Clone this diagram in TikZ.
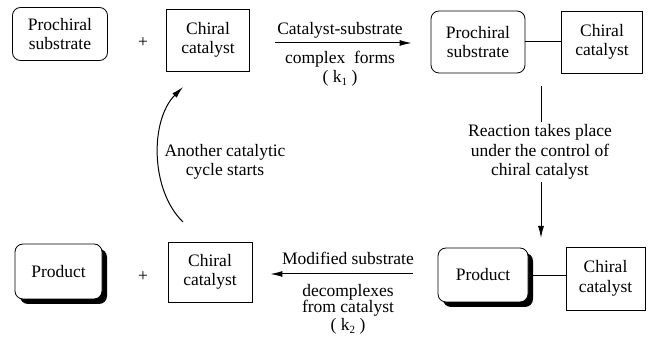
\documentclass[tikz,border=0pt]{standalone}
\usepackage{fontspec}
\setmainfont{Liberation Serif}
\newfontfamily\tnr{Liberation Serif}
\usetikzlibrary{arrows.meta}
\newcommand{\sbs}[1]{\raisebox{-3.5pt}{\fontsize{11}{11}\selectfont #1}}
\begin{document}
\begin{tikzpicture}[x=1pt,y=-1pt,
  every node/.style={font=\tnr\fontsize{17.5}{19.5}\selectfont, align=center, inner sep=0pt},
  sqbox/.style={draw, line width=0.8pt, minimum width=#1},
  rbox/.style={draw, line width=0.8pt, rounded corners=8pt, fill=white},
  conn/.style={line width=1pt},
  arr/.style={line width=1pt, -{Latex[length=12pt,width=6pt]}}]
\useasboundingbox (0,0) rectangle (654,347);
% top row
\node[rbox, minimum width=95pt, minimum height=53pt] (ps1) at (60,34) {Prochiral\\substrate};
\node (plus1) at (143,43) {+};
\node[sqbox=83pt, minimum height=62pt] (cc1) at (208,40) {Chiral\\catalyst};
\node[rbox, minimum width=94pt, minimum height=62pt] (ps2) at (478,42) {Prochiral\\substrate};
\node[sqbox=81pt, minimum height=62pt] (cc2) at (602,42) {Chiral\\catalyst};
\draw[conn] (ps2) -- (cc2);
% top arrow
\draw[arr, shorten <=25pt, shorten >=19pt] (cc1.east |- 0,43) -- (ps2.west |- 0,43);
\node (t1) at (340,30) {Catalyst-substrate};
\node (t2) at (340,59) {complex\ \ forms};
\node (t3) at (340,78) {( k\sbs{1} )};
% vertical
\coordinate (vtop) at (541,86);
\coordinate (vbot) at (541,238);
\draw[arr] (vtop) -- (vbot);
\node[fill=white, inner ysep=3pt] (rt) at (540,152) {Reaction takes place\\under the control of\\chiral catalyst};
% bottom right
\fill[rounded corners=8pt] (443,253) rectangle (533,307);
\node[rbox, minimum width=90pt, minimum height=54pt] (pr2) at (483,275) {Product};
\node[sqbox=79pt, minimum height=63pt] (cc4) at (605.5,278.5) {Chiral\\catalyst};
\draw[conn] (pr2.east |- 0,276) -- (cc4.west |- 0,276);
% bottom left
\fill[rounded corners=8pt] (20,249) rectangle (107,304);
\node[rbox, minimum width=87pt, minimum height=55pt] (pr1) at (58.5,271.5) {Product};
\node (plus2) at (143,277) {+};
\node[sqbox=84pt, minimum height=60pt] (cc3) at (210,272) {Chiral\\catalyst};
% bottom arrow
\draw[arr, shorten <=25pt, shorten >=18pt] (pr2.west |- 0,274) -- (cc3.east |- 0,274);
\node (b1) at (348,258) {Modified substrate};
\node (b2) at (348,292) {decomplexes};
\node (b3) at (348,308) {from catalyst};
\node (b4) at (348,326) {( k\sbs{2} )};
% cycle arrow
\coordinate (cs) at (183,222);
\coordinate (ce) at (183,87);
\draw[arr] (cs) .. controls (150,190) and (150,120) .. (ce);
\node (cy) at (225,162) {Another catalytic\\cycle starts};
\end{tikzpicture}
\end{document}
